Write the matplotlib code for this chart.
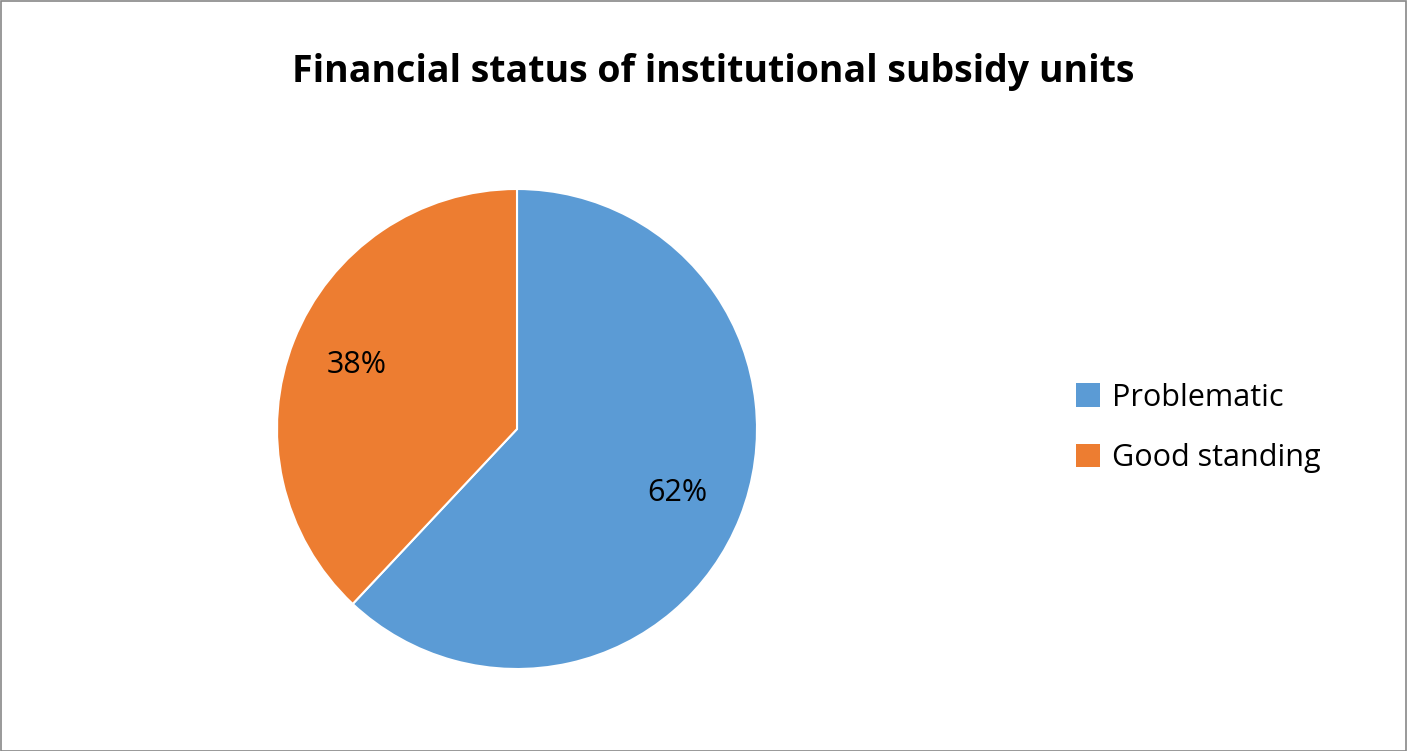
import matplotlib
matplotlib.use("Agg")
import matplotlib.pyplot as plt
from matplotlib.patches import Rectangle, Patch

categories = ["Problematic", "Good standing"]
values = [62, 38]
colors = ["#5B9BD5", "#ED7D31"]

plt.rcParams['font.family'] = ['Open Sans', 'DejaVu Sans']
W, H = 1407, 751
fig = plt.figure(figsize=(W/100, H/100), dpi=100)
cx, cy, r = 517, 429, 240
ax = fig.add_axes([(cx-r)/W, (H-cy-r)/H, 2*r/W, 2*r/H])
ax.pie(values, colors=colors, startangle=90, counterclock=False,
       autopct='%1.0f%%', pctdistance=0.72,
       textprops={'fontsize': 22, 'color': 'black'},
       wedgeprops={'linewidth': 1.5, 'edgecolor': 'white'})
ax.set_aspect('equal')
ax.set_xlim(-1, 1); ax.set_ylim(-1, 1)

fig.text(cx/W + 0.0 + (713-517)/W, 1-72/H, "Financial status of institutional subsidy units",
         ha='center', va='center', fontsize=27, fontweight='bold')

handles = [Patch(facecolor=c, edgecolor='none') for c in colors]
fig.legend(handles, categories, loc='center left', bbox_to_anchor=(1048/W, 1-428/H),
           frameon=False, fontsize=22, handlelength=0.8, handleheight=0.8,
           labelspacing=1.0, handletextpad=0.4)

fig.patches.append(Rectangle((0.5/W, 0.5/H), 1-1.5/W, 1-1.5/H, transform=fig.transFigure,
                             fill=False, edgecolor='#888888', linewidth=1.2))
fig.savefig("out.png", dpi=100, facecolor='white')
